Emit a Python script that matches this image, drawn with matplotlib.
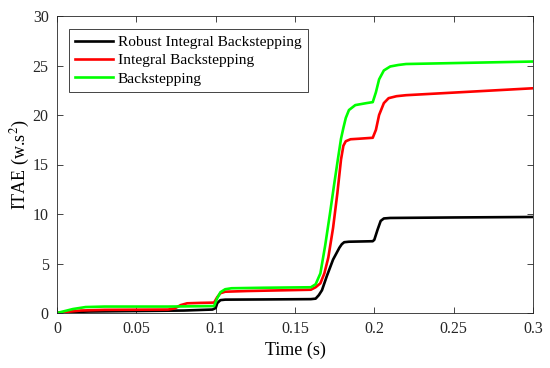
import matplotlib
matplotlib.use('Agg')
import matplotlib.pyplot as plt

# points (time in s, ITAE)
t_rib = [0, 0.01, 0.02, 0.05, 0.08, 0.098, 0.1, 0.101, 0.103, 0.106, 0.13, 0.16, 0.163,
         0.165, 0.167, 0.170, 0.174, 0.178, 0.1795, 0.181, 0.184, 0.199, 0.2, 0.202, 0.204,
         0.206, 0.21, 0.25, 0.3]
itae_rib = [0, 0.1, 0.15, 0.2, 0.25, 0.35, 0.5, 1.0, 1.3, 1.35, 1.37, 1.4, 1.45,
            1.8, 2.3, 3.7, 5.4, 6.6, 6.95, 7.15, 7.2, 7.25, 7.4, 8.4, 9.3,
            9.55, 9.6, 9.65, 9.7]

t_ib = [0, 0.005, 0.015, 0.03, 0.07, 0.074, 0.078, 0.082, 0.09, 0.099, 0.101, 0.103,
        0.106, 0.12, 0.16, 0.163, 0.166, 0.1685, 0.171, 0.174, 0.1767, 0.179, 0.1805,
        0.182, 0.185, 0.19, 0.199, 0.201, 0.203, 0.206, 0.209, 0.214, 0.22, 0.3]
itae_ib = [0, 0.1, 0.25, 0.32, 0.35, 0.45, 0.8, 0.98, 1.02, 1.05, 1.6, 2.0,
           2.15, 2.22, 2.35, 2.6, 3.0, 4.0, 5.6, 8.6, 12.1, 15.5, 16.9,
           17.35, 17.55, 17.6, 17.7, 18.5, 20.0, 21.2, 21.7, 21.9, 22.0, 22.7]

t_bs = [0, 0.005, 0.01, 0.018, 0.03, 0.07, 0.099, 0.101, 0.103, 0.106, 0.11, 0.13,
        0.16, 0.163, 0.166, 0.169, 0.172, 0.1745, 0.177, 0.179, 0.1805, 0.182, 0.184,
        0.188, 0.195, 0.199, 0.201, 0.203, 0.206, 0.21, 0.215, 0.22, 0.3]
itae_bs = [0, 0.2, 0.4, 0.6, 0.65, 0.65, 0.7, 1.5, 2.1, 2.4, 2.5, 2.55,
           2.6, 2.9, 4.0, 6.8, 10.0, 12.8, 15.5, 17.6, 18.7, 19.7, 20.5,
           21.0, 21.2, 21.3, 22.3, 23.6, 24.5, 24.9, 25.05, 25.15, 25.4]

labels = ['Robust Integral Backstepping', 'Integral Backstepping', 'Backstepping']

plt.rcParams['font.family'] = ['Liberation Serif', 'DejaVu Serif']
plt.rcParams['mathtext.fontset'] = 'stix'

fig = plt.figure(figsize=(5.5, 3.68), dpi=100)
ax = fig.add_axes([57 / 550, 1 - 313 / 368, 476 / 550, 297 / 368])

ax.plot(t_rib, itae_rib, color='black', lw=1.9, label=labels[0])
ax.plot(t_ib, itae_ib, color='red', lw=1.9, label=labels[1])
ax.plot(t_bs, itae_bs, color='#00ff00', lw=1.9, label=labels[2])

ax.set_xlim(0, 0.3)
ax.set_ylim(0, 30)
ax.set_xticks([0, 0.05, 0.1, 0.15, 0.2, 0.25, 0.3])
ax.set_xticklabels(['0', '0.05', '0.1', '0.15', '0.2', '0.25', '0.3'])
ax.set_yticks([0, 5, 10, 15, 20, 25, 30])
ax.tick_params(direction='in', top=True, right=True, length=4, width=0.6,
               labelsize=11.5, colors='#262626', pad=6)
for s in ax.spines.values():
    s.set_linewidth(0.6)
    s.set_color('#262626')

ax.set_xlabel('Time (s)', fontsize=13, labelpad=3)
ax.set_ylabel('ITAE (w.s$^2$)', fontsize=13, labelpad=0.5)

leg = ax.legend(loc='upper left', bbox_to_anchor=(0.025, 0.956), fontsize=11.1,
                frameon=True, fancybox=False, edgecolor='#262626', framealpha=1,
                borderaxespad=0, handlelength=2.45, handletextpad=0.3,
                labelspacing=0.28, borderpad=0.42)
leg.get_frame().set_linewidth(0.6)

fig.savefig('out.png', dpi=100)
plt.close(fig)
